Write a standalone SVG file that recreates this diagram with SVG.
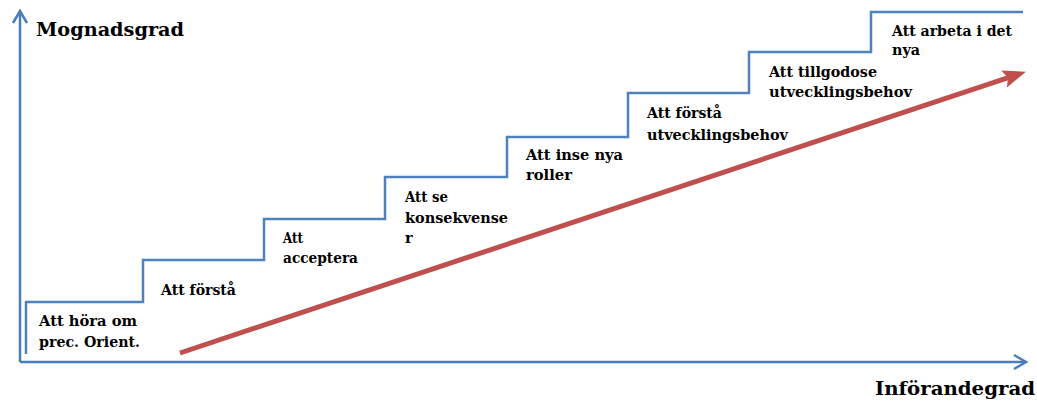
<svg xmlns="http://www.w3.org/2000/svg" width="1037" height="403" viewBox="0 0 1037 403">
<style>
.axis{stroke:#4a7ebb;stroke-width:2.5;fill:none}
.stair{stroke:#4f81bd;stroke-width:2.5;fill:none}
.trend{stroke:#c0504d;stroke-width:5;fill:none}
.title{font-family:"DejaVu Serif","Liberation Serif",serif;font-weight:bold;font-size:18px;fill:#000}
.lbl{font-family:"DejaVu Serif","Liberation Serif",serif;font-weight:bold;font-size:14.5px;fill:#000}
</style>
<defs>
<marker id="open" markerUnits="userSpaceOnUse" markerWidth="20" markerHeight="20" viewBox="-14 -10 20 20" refX="0" refY="0" orient="auto">
<path d="M-12,-7 L0,0 L-12,7" fill="none" stroke="#4a7ebb" stroke-width="2.5"/>
</marker>
<marker id="head" markerUnits="userSpaceOnUse" markerWidth="30" markerHeight="24" viewBox="-2 -12 30 24" refX="10" refY="0" orient="auto">
<path d="M0,-9 L23,0 L0,9 L4,0 Z" fill="#c0504d"/>
</marker>
</defs>
<g id="connectors">
<polyline id="y-axis" class="axis" points="20,362 20,11" marker-end="url(#open)"/>
<polyline id="x-axis" class="axis" points="20,362 1026,362" marker-end="url(#open)"/>
<polyline id="staircase" class="stair" points="26,354 26,302 143,302 143,260 264,260 264,219 385,219 385,177 507,177 507,137 628,137 628,93 749,93 749,52 871,52 871,12 1023,12"/>
<line id="trend" class="trend" x1="180" y1="353" x2="1013.6" y2="75.8" marker-end="url(#head)"/>
</g>
<g id="axis-y-label"><text class="title" x="36" y="36" textLength="148" lengthAdjust="spacingAndGlyphs">Mognadsgrad</text></g>
<g id="axis-x-label"><text class="title" x="875" y="395" textLength="160" lengthAdjust="spacingAndGlyphs">Införandegrad</text></g>
<g id="step1">
<text class="lbl" x="39" y="326" textLength="98" lengthAdjust="spacingAndGlyphs">Att höra om</text>
<text class="lbl" x="39" y="347" textLength="101" lengthAdjust="spacingAndGlyphs">prec. Orient.</text>
</g>
<g id="step2">
<text class="lbl" x="161" y="295" textLength="75" lengthAdjust="spacingAndGlyphs">Att förstå</text>
</g>
<g id="step3">
<text class="lbl" x="283" y="243" textLength="20" lengthAdjust="spacingAndGlyphs">Att</text>
<text class="lbl" x="283" y="263" textLength="75" lengthAdjust="spacingAndGlyphs">acceptera</text>
</g>
<g id="step4">
<text class="lbl" x="405" y="202" textLength="43" lengthAdjust="spacingAndGlyphs">Att se</text>
<text class="lbl" x="405" y="223" textLength="103" lengthAdjust="spacingAndGlyphs">konsekvense</text>
<text class="lbl" x="405" y="243">r</text>
</g>
<g id="step5">
<text class="lbl" x="526" y="160" textLength="97" lengthAdjust="spacingAndGlyphs">Att inse nya</text>
<text class="lbl" x="526" y="180" textLength="46" lengthAdjust="spacingAndGlyphs">roller</text>
</g>
<g id="step6">
<text class="lbl" x="647" y="118" textLength="75" lengthAdjust="spacingAndGlyphs">Att förstå</text>
<text class="lbl" x="647" y="140" textLength="141" lengthAdjust="spacingAndGlyphs">utvecklingsbehov</text>
</g>
<g id="step7">
<text class="lbl" x="769" y="77" textLength="108" lengthAdjust="spacingAndGlyphs">Att tillgodose</text>
<text class="lbl" x="769" y="97" textLength="143" lengthAdjust="spacingAndGlyphs">utvecklingsbehov</text>
</g>
<g id="step8">
<text class="lbl" x="892" y="36" textLength="120" lengthAdjust="spacingAndGlyphs">Att arbeta i det</text>
<text class="lbl" x="892" y="55" textLength="28" lengthAdjust="spacingAndGlyphs">nya</text>
</g>
</svg>
